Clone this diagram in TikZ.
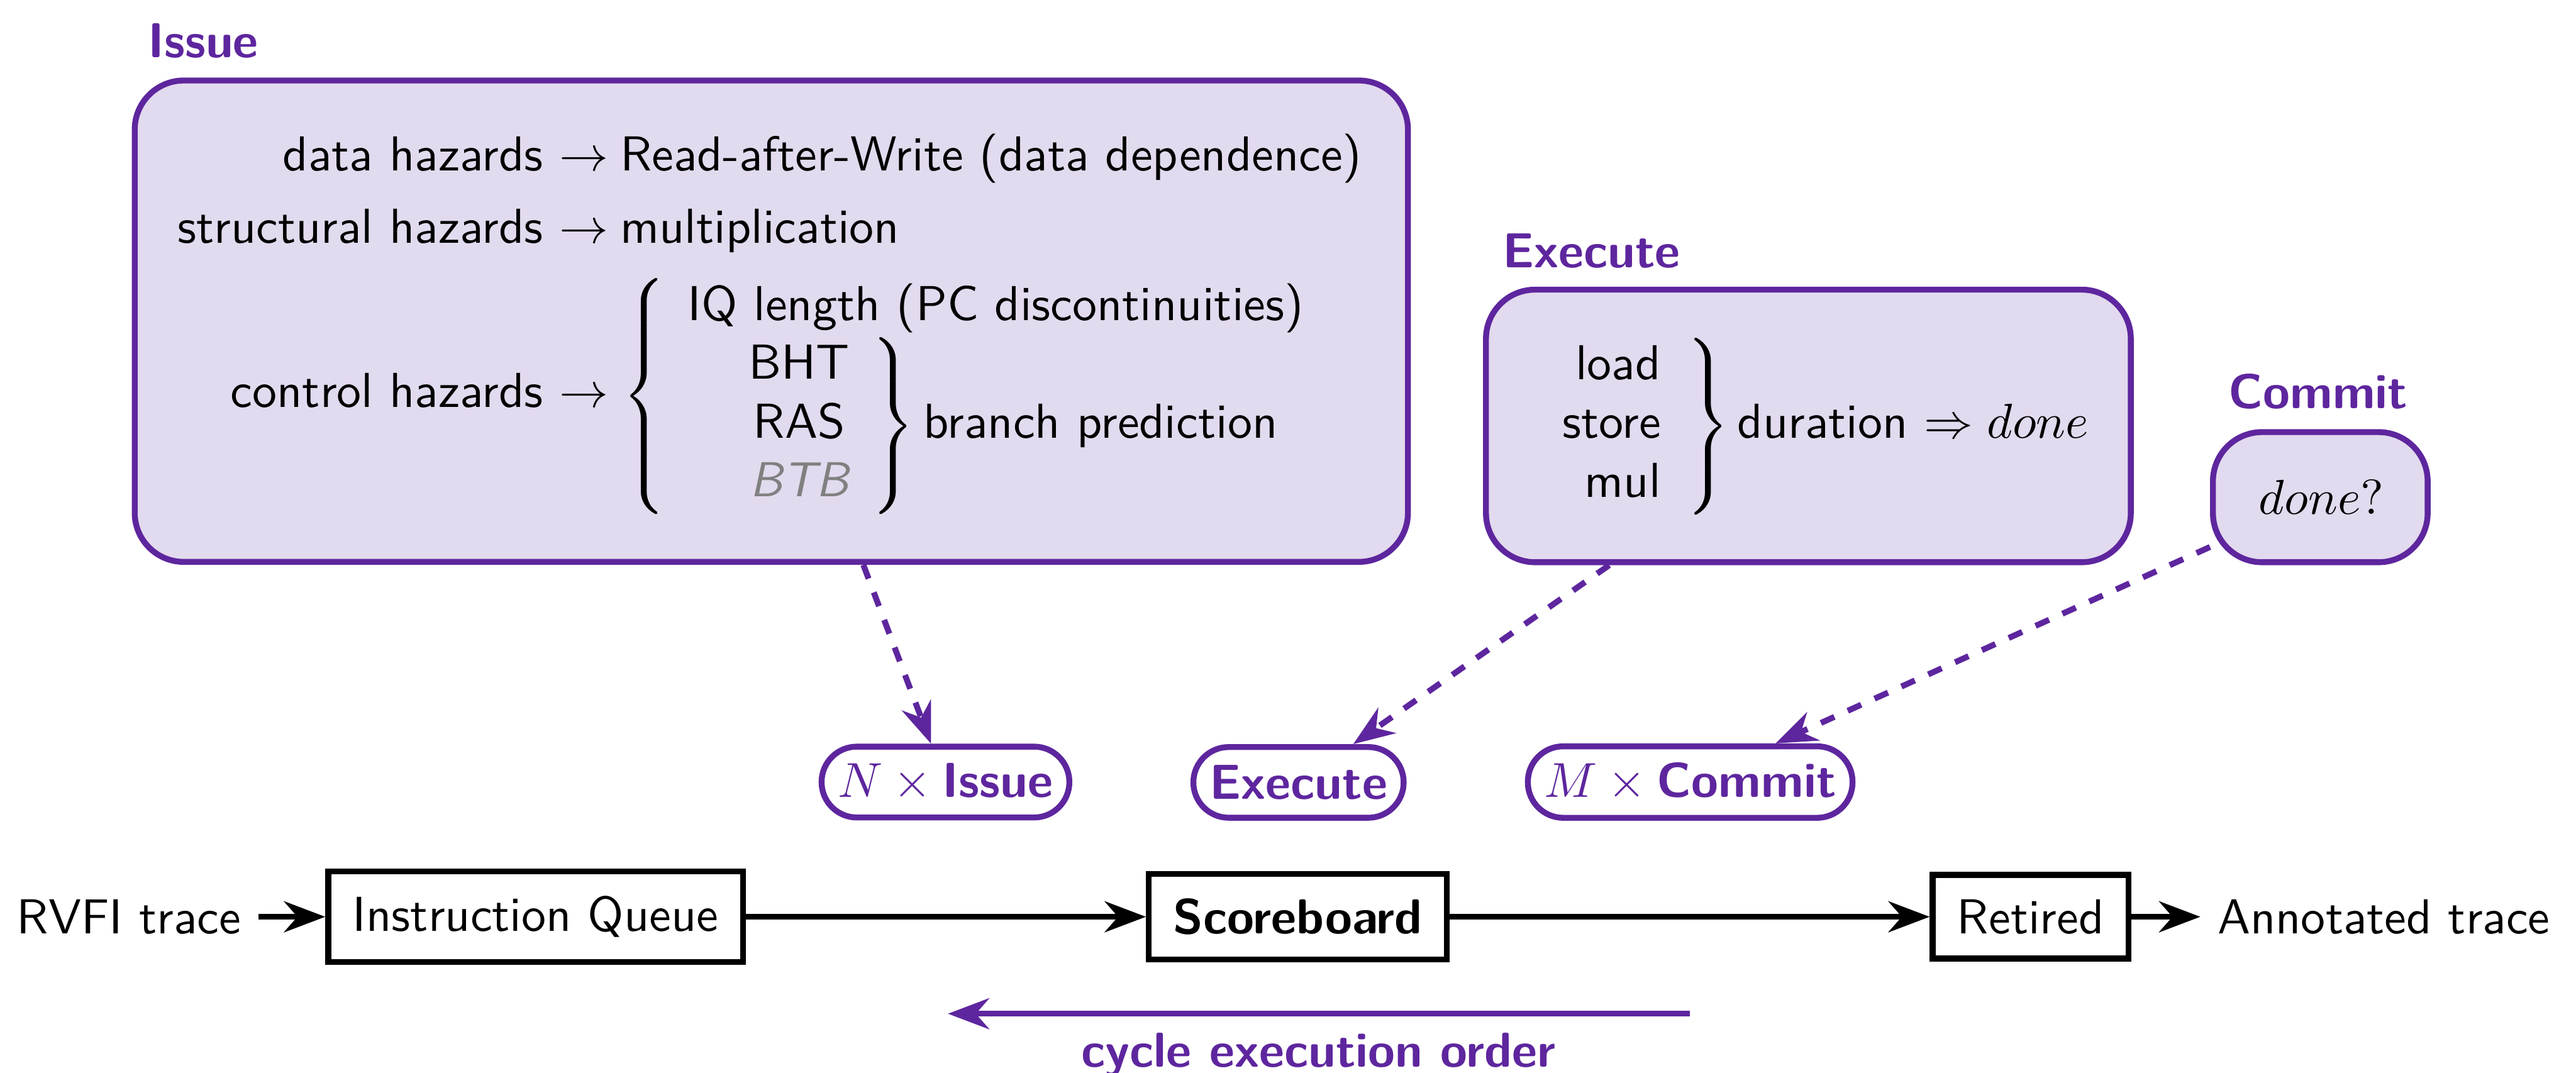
\documentclass[tikz,border=0pt]{standalone}
\usetikzlibrary{arrows.meta,fit,calc}
\definecolor{vio}{RGB}{94,38,158}
\definecolor{viofill}{RGB}{226,218,238}
\definecolor{btbgray}{RGB}{128,128,128}
\newcommand{\mylbrace}[1]{$\delimitershortfall=0pt\delimiterfactor=1000\left\{\vcenter{\hrule height #1 width 0pt}\right.$}
\newcommand{\myrbrace}[1]{$\delimitershortfall=0pt\delimiterfactor=1000\left.\vcenter{\hrule height #1 width 0pt}\right\}$}
\begin{document}
\begin{tikzpicture}[x=0.01177cm,y=-0.01177cm,font=\sffamily,
  stagebox/.style={draw=vio,fill=viofill,line width=1.2pt,rounded corners=10pt,inner sep=0pt},
  stagelabel/.style={text=vio,font=\sffamily\bfseries,anchor=base west,inner sep=0pt},
  txtr/.style={anchor=base east,inner sep=0pt},
  txtl/.style={anchor=base west,inner sep=0pt},
  txtc/.style={anchor=base,inner sep=0pt},
  bracenode/.style={inner sep=0pt,anchor=center},
  pill/.style={draw=vio,fill=white,line width=1.2pt,rounded corners=7.2pt,text=vio,minimum height=14.4pt},
  flowbox/.style={draw=black,line width=1.2pt,inner sep=5pt},
  flowarrow/.style={-{Stealth},line width=1.2pt},
  hint/.style={-{Stealth},dashed,draw=vio,line width=1.2pt},
  order/.style={-{Stealth},draw=vio,line width=1.2pt}
]
\useasboundingbox (0,0) rectangle (1568,653);

% stage boxes
\node[stagebox,fit={(82,49) (857,342)}] (issue) {};
\node[stagebox,fit={(904.5,176.3) (1297,342.2)}] (execute) {};
\node[stagebox,fit={(1347,263) (1477.7,342.2)}] (commit) {};

\node[stagelabel] (issuelbl) at (89.5,35) {Issue};
\node[stagelabel] (executelbl) at (914,162.8) {Execute};
\node[stagelabel] (commitlbl) at (1356,248.8) {Commit};

% issue content
\node[txtr] (dh) at (371,103.8) {data hazards $\rightarrow$};
\node[txtl] (raw) at (377,103.8) {Read-after-Write (data dependence)};
\node[txtr] (sh) at (371,147.8) {structural hazards $\rightarrow$};
\node[txtl] (mult) at (377,147.8) {multiplication};
\node[txtr] (ch) at (371,248) {control hazards $\rightarrow$};
\node[bracenode] (lb) at (393.7,241.25) {\mylbrace{46pt}};
\node[txtl] (iql) at (418,195) {IQ length (PC discontinuities)};
\node[txtc] (bht) at (486.5,230.8) {BHT};
\node[txtc] (ras) at (486.5,266.5) {RAS};
\node[txtc,text=btbgray] (btb) at (486.5,302.2) {\itshape BTB};
\node[bracenode] (rb) at (541.7,259.3) {\myrbrace{35pt}};
\node[txtl] (bp) at (561.5,266.5) {branch prediction};

% execute content
\node[txtr] (load) at (1011.5,231.2) {load};
\node[txtr] (store) at (1011.5,266.8) {store};
\node[txtr] (mul) at (1011.5,302.5) {mul};
\node[bracenode] (rb2) at (1038,259.5) {\myrbrace{35pt}};
\node[txtl] (dur) at (1057,266.8) {duration $\Rightarrow done$};

% commit content
\node[txtc] (dq) at (1413,312.8) {$done?$};

% pills
\node[pill] (nissue) at (575.5,476) {$N\times{}$\textbf{Issue}};
\node[pill] (exe) at (790.4,476.2) {\textbf{Execute}};
\node[pill] (mcommit) at (1028.8,476) {$M\times{}$\textbf{Commit}};

\draw[hint] (issue) -- (nissue);
\draw[hint] (execute) -- (exe);
\draw[hint] (commit) -- (mcommit);

% pipeline row
\node (rvfi) at (78.5,558) {RVFI trace};
\node[flowbox] (iq) at (326,558) {Instruction Queue};
\node[flowbox] (sb) at (790,558) {\textbf{Scoreboard}};
\node[flowbox] (ret) at (1236,558) {Retired};
\node (ann) at (1451,558) {Annotated trace};

\draw[flowarrow] (rvfi) -- (iq);
\draw[flowarrow] (iq) -- (sb);
\draw[flowarrow] (sb) -- (ret);
\draw[flowarrow] (ret) -- (ann);

% cycle order
\coordinate (ordstart) at (1028.5,617);
\coordinate (ordend) at (577,617);
\draw[order] (ordstart) -- (ordend);
\node[txtc,text=vio,font=\sffamily\bfseries] (ceo) at (802.5,649.3) {cycle execution order};
\end{tikzpicture}
\end{document}
